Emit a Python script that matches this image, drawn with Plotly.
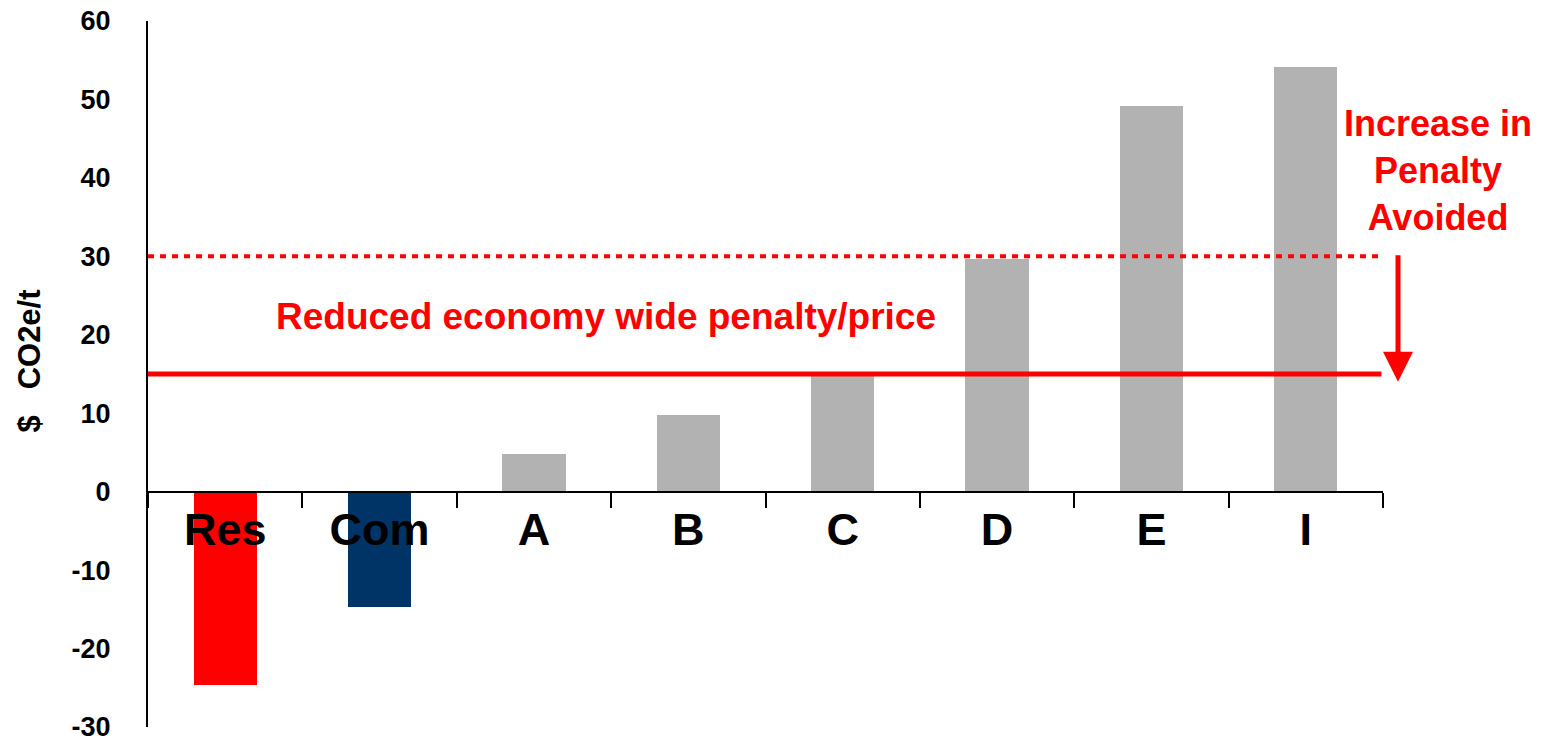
import plotly.graph_objects as go

categories = ["Res", "Com", "A", "B", "C", "D", "E", "I"]
values = [-24.6, -14.7, 4.8, 9.8, 14.7, 29.7, 49.2, 54.2]
bar_colors = ["#FF0000", "#003366", "#B2B2B2", "#B2B2B2", "#B2B2B2", "#B2B2B2", "#B2B2B2", "#B2B2B2"]
y_ticks = [-30, -20, -10, 0, 10, 20, 30, 40, 50, 60]
y_tick_labels = ["-30", "-20", "-10", "0", "10", "20", "30", "40", "50", "60"]
old_price = 30
new_price = 15

FONT = "Liberation Sans, Arial, sans-serif"
PLOT_L, PLOT_R = 148, 1383
PW = PLOT_R - PLOT_L

fig = go.Figure()
fig.add_trace(go.Bar(
    x=categories, y=values,
    marker=dict(color=bar_colors, line=dict(width=0)),
    width=0.41, showlegend=False, hoverinfo="skip",
))

# price lines
fig.add_shape(type="line", xref="x", yref="y", x0=-0.5, x1=7.48, y0=old_price, y1=old_price,
              line=dict(color="#FF0000", width=4, dash="6px,6px"))
fig.add_shape(type="line", xref="x", yref="y", x0=-0.5, x1=7.49, y0=new_price, y1=new_price,
              line=dict(color="#FF0000", width=5))

fig.add_annotation(x=2.466, y=22.3, xref="x", yref="y", text="<b>Reduced economy wide penalty/price</b>",
                   showarrow=False, font=dict(family=FONT, size=37, color="#FF0000"))
fig.add_annotation(x=(1438 - PLOT_L) / PW, y=41.0, xref="paper", yref="y", xanchor="center",
                   text="<b>Increase in<br>Penalty<br>Avoided</b>",
                   showarrow=False, font=dict(family=FONT, size=36, color="#FF0000"))
fig.add_annotation(x=(1398 - PLOT_L) / PW, y=14.0, xref="paper", yref="y", ax=0, ay=-128,
                   text="", showarrow=True, arrowhead=2, arrowsize=1.2, arrowwidth=5,
                   arrowcolor="#FF0000")
# y-axis title
fig.add_annotation(x=0, xref="paper", xanchor="center", xshift=-119, y=16.6, yref="y",
                   text="<b>$\u00a0\u00a0\u00a0CO2e/t</b>", textangle=-90, showarrow=False,
                   font=dict(family=FONT, size=31, color="#000000"))

fig.update_layout(
    width=1547, height=744,
    margin=dict(l=PLOT_L, r=1547 - PLOT_R, t=21, b=17, autoexpand=False),
    paper_bgcolor="white", plot_bgcolor="white",
    bargap=0,
    xaxis=dict(
        type="category", range=[-0.5, 7.5], automargin=False,
        tickmode="array", tickvals=categories,
        ticktext=["<b>%s</b>" % c for c in categories],
        tickson="boundaries", ticks="outside", ticklen=15, tickwidth=2, tickcolor="black",
        showline=True, linecolor="black", linewidth=2, showgrid=False, zeroline=False,
        anchor="free", position=1/3, ticklabelstandoff=-2,
        tickfont=dict(family=FONT, size=45, color="black"),
    ),
    yaxis=dict(
        range=[-30, 60], tickmode="array", tickvals=y_ticks, automargin=False,
        ticktext=["<b>%s</b>" % t for t in y_tick_labels],
        ticks="", showgrid=False, zeroline=False,
        showline=True, linecolor="black", linewidth=2,
        tickfont=dict(family=FONT, size=27, color="black"),
        ticklabelstandoff=30, ticklabeloverflow="allow",
    ),
)

fig.write_html("out.html")
